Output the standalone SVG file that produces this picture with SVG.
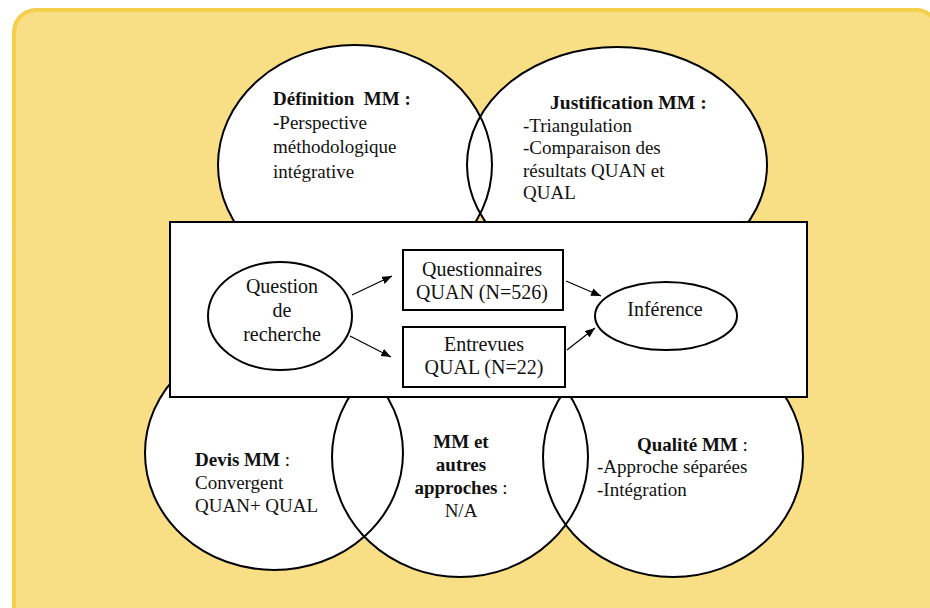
<svg xmlns="http://www.w3.org/2000/svg" width="930" height="608" viewBox="0 0 930 608">
<defs>
<marker id="ah" markerWidth="10" markerHeight="8" refX="10" refY="4" orient="auto" markerUnits="userSpaceOnUse">
<path d="M0,0 L10,4 L0,8 Z" fill="#000"/>
</marker>
<style>
text{font-family:'Liberation Serif','Times New Roman','DejaVu Serif',serif;font-size:19px;fill:#111}
.b{font-weight:bold}
.c{text-anchor:middle}
.m{font-size:20px}
.fill{fill:#fff;stroke:none}
.ln{fill:none;stroke:#000;stroke-width:2}
.box{fill:#fff;stroke:#000;stroke-width:2}
.con{stroke:#000;stroke-width:1.2;fill:none;marker-end:url(#ah)}
</style>
</defs>
<rect x="14" y="10" width="924" height="620" rx="22" fill="#F8DE85" stroke="#F4CF4C" stroke-width="4"/>

<g id="ellipse-fills">
<ellipse class="fill" cx="355" cy="165" rx="137" ry="120"/>
<ellipse class="fill" cx="617" cy="165" rx="150" ry="118"/>
<ellipse class="fill" cx="274" cy="453" rx="129" ry="117"/>
<ellipse class="fill" cx="460" cy="457" rx="128" ry="120"/>
<ellipse class="fill" cx="673" cy="457" rx="130" ry="120"/>
</g>

<g id="definition">
<ellipse class="ln" cx="355" cy="165" rx="137" ry="120"/>
<text x="273" y="105"><tspan class="b">Définition&#160; MM :</tspan></text>
<text x="273" y="129"><tspan class="b">-</tspan>Perspective</text>
<text x="273" y="153">méthodologique</text>
<text x="273" y="178">intégrative</text>
</g>

<g id="justification">
<ellipse class="ln" cx="617" cy="165" rx="150" ry="118"/>
<text class="b" x="550" y="109" style="font-size:19.6px">Justification MM :</text>
<text x="523" y="132">-Triangulation</text>
<text x="523" y="154">-Comparaison des</text>
<text x="523" y="177">résultats QUAN et</text>
<text x="523" y="199">QUAL</text>
</g>

<g id="devis">
<ellipse class="ln" cx="274" cy="453" rx="129" ry="117"/>
<text x="195" y="466"><tspan class="b">Devis MM</tspan> :</text>
<text x="195" y="489">Convergent</text>
<text x="195" y="512">QUAN+ QUAL</text>
</g>

<g id="autres">
<ellipse class="ln" cx="460" cy="457" rx="128" ry="120"/>
<text class="b c" x="461" y="448">MM et</text>
<text class="b c" x="461" y="471">autres</text>
<text class="c" x="461" y="494"><tspan class="b">approches</tspan> :</text>
<text class="c" x="461" y="517">N/A</text>
</g>

<g id="qualite">
<ellipse class="ln" cx="673" cy="457" rx="130" ry="120"/>
<text x="637" y="451"><tspan class="b">Qualité MM</tspan> :</text>
<text x="597" y="473">-Approche séparées</text>
<text x="597" y="496">-Intégration</text>
</g>

<g id="frame">
<rect class="box" x="170" y="222" width="637" height="175"/>
</g>

<g id="question">
<ellipse class="ln" cx="280" cy="316" rx="72" ry="54" fill="#fff"/>
<text class="c m" x="282" y="293">Question</text>
<text class="c m" x="282" y="317">de</text>
<text class="c m" x="282" y="341">recherche</text>
</g>

<g id="questionnaires">
<rect class="box" x="403" y="250" width="160" height="60"/>
<text class="c m" x="482" y="276">Questionnaires</text>
<text class="c m" x="482" y="299">QUAN (N=526)</text>
</g>

<g id="entrevues">
<rect class="box" x="403" y="327" width="162" height="60"/>
<text class="c m" x="484" y="351">Entrevues</text>
<text class="c m" x="484" y="374">QUAL (N=22)</text>
</g>

<g id="inference">
<ellipse class="ln" cx="666" cy="316" rx="71" ry="34" fill="#fff"/>
<text class="c m" x="665" y="316">Inférence</text>
</g>

<g id="connectors">
<line class="con" x1="352" y1="295" x2="392" y2="276"/>
<line class="con" x1="350" y1="336" x2="391" y2="357"/>
<line class="con" x1="566" y1="281" x2="601" y2="296"/>
<line class="con" x1="567" y1="350" x2="595" y2="328"/>
</g>
</svg>
